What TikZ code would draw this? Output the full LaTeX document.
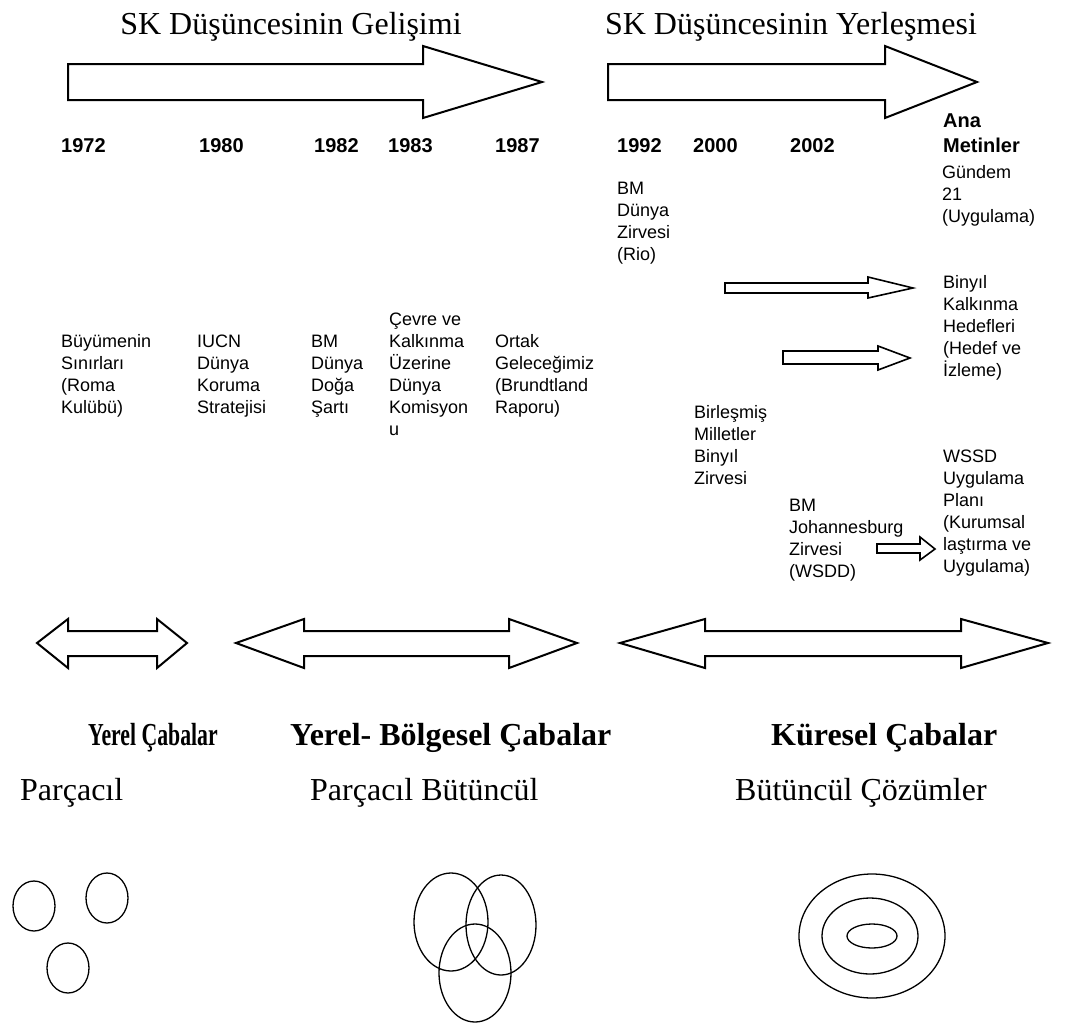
\documentclass[tikz,border=0pt]{standalone}
\usepackage{fontspec}
\setmainfont{Liberation Serif}
\setsansfont{Liberation Sans}
\newcommand\stk[1]{\vtop{\baselineskip=22pt\lineskiplimit=-20pt\halign{##\hfil\cr#1\crcr}}}
\begin{document}
\begin{tikzpicture}[x=1pt,y=-1pt,
  bigarrow/.style={draw=black,line width=2pt,fill=white,line join=miter},
  smallarrow/.style={draw=black,line width=1.6pt,fill=white,line join=miter},
  ring/.style={draw=black,line width=1.3pt},
  title/.style={anchor=base,inner sep=0pt,font=\fontsize{32}{36}\selectfont},
  heading/.style={anchor=base west,inner sep=0pt,font=\bfseries\fontsize{32}{36}\selectfont},
  sub/.style={anchor=base west,inner sep=0pt,font=\fontsize{32}{36}\selectfont},
  year/.style={anchor=base west,inner sep=0pt,font=\sffamily\bfseries\fontsize{20}{25}\selectfont},
  txt/.style={anchor=base west,inner sep=0pt,font=\sffamily\fontsize{18}{22}\selectfont}]
\useasboundingbox (0,0) rectangle (1066,1026);

% titles
\node[title] (t1) at (291,34) {SK Düşüncesinin Gelişimi};
\node[title] (t2) at (791,34) {SK Düşüncesinin Yerleşmesi};

% big timeline arrows
\draw[bigarrow] (68,64) -- (423,64) -- (423,46) -- (542,82) -- (423,118) -- (423,100) -- (68,100) -- cycle;
\draw[bigarrow] (608,64) -- (885,64) -- (885,46) -- (977,82) -- (885,118) -- (885,100) -- (608,100) -- cycle;

% years
\node[year] (y1972) at (61,152) {1972};
\node[year] (y1980) at (199,152) {1980};
\node[year] (y1982) at (314,152) {1982};
\node[year] (y1983) at (388,152) {1983};
\node[year] (y1987) at (495,152) {1987};
\node[year] (y1992) at (617,152) {1992};
\node[year] (y2000) at (693,152) {2000};
\node[year] (y2002) at (790,152) {2002};
\node[year] (ana) at (943,127) {\vtop{\baselineskip=25pt\halign{#\hfil\cr Ana\cr Metinler\crcr}}};

% events left
\node[txt] (e1972) at (61,347) {\stk{Büyümenin\cr Sınırları\cr (Roma\cr Kulübü)}};
\node[txt] (e1980) at (197,347) {\stk{IUCN\cr Dünya\cr Koruma\cr Stratejisi}};
\node[txt] (e1982) at (311,347) {\stk{BM\cr Dünya\cr Doğa\cr Şartı}};
\node[txt] (e1983) at (389,325) {\stk{Çevre ve\cr Kalkınma\cr Üzerine\cr Dünya\cr Komisyon\cr u}};
\node[txt] (e1987) at (495,347) {\stk{Ortak\cr Geleceğimiz\cr (Brundtland\cr Raporu)}};

% events right
\node[txt] (e1992) at (617,194) {\stk{BM\cr Dünya\cr Zirvesi\cr (Rio)}};
\node[txt] (e2000) at (694,418) {\stk{Birleşmiş\cr Milletler\cr Binyıl\cr Zirvesi}};
\node[txt] (e2002) at (789,511) {\stk{BM\cr Johannesburg\cr Zirvesi\cr (WSDD)}};
\node[txt] (m1) at (942,178) {\stk{Gündem\cr 21\cr (Uygulama)}};
\node[txt] (m2) at (943,288) {\stk{Binyıl\cr Kalkınma\cr Hedefleri\cr (Hedef ve\cr İzleme)}};
\node[txt] (m3) at (943,462) {\stk{WSSD\cr Uygulama\cr Planı\cr (Kurumsal\cr laştırma ve\cr Uygulama)}};

% small arrows
\draw[smallarrow] (725,283) -- (868,283) -- (868,277) -- (913,288) -- (868,298) -- (868,293) -- (725,293) -- cycle;
\draw[smallarrow] (783,351) -- (878,351) -- (878,346) -- (910,358) -- (878,370) -- (878,364) -- (783,364) -- cycle;
\draw[smallarrow] (877,544) -- (920,544) -- (920,537) -- (935,549) -- (920,560) -- (920,553) -- (877,553) -- cycle;

% double arrows
\draw[bigarrow] (37,643) -- (68,619) -- (68,631) -- (157,631) -- (157,619) -- (187,643) -- (157,668) -- (157,656) -- (68,656) -- (68,668) -- cycle;
\draw[bigarrow] (236,643) -- (304,619) -- (304,631) -- (509,631) -- (509,619) -- (577,643) -- (509,668) -- (509,656) -- (304,656) -- (304,668) -- cycle;
\draw[bigarrow] (620,643) -- (705,619) -- (705,631) -- (961,631) -- (961,619) -- (1048,643) -- (961,668) -- (961,656) -- (705,656) -- (705,668) -- cycle;

% headings
\node[heading] (h1) at (88,745) {\scalebox{0.68}[1]{Yerel Çabalar}};
\node[heading] (h2) at (290,745) {Yerel- Bölgesel Çabalar};
\node[heading] (h3) at (771,745) {Küresel Çabalar};

\node[sub] (s1) at (20,800) {Parçacıl};
\node[sub] (s2) at (310,800) {Parçacıl Bütüncül};
\node[sub] (s3) at (735,800) {Bütüncül Çözümler};

% circles
\draw[ring] (34,906) ellipse [x radius=21,y radius=25];
\draw[ring] (107,898) ellipse [x radius=21,y radius=25];
\draw[ring] (68,968) ellipse [x radius=21,y radius=25];

\draw[ring] (451,922) ellipse [x radius=37,y radius=49];
\draw[ring] (501,925) ellipse [x radius=35,y radius=50];
\draw[ring] (475,973) ellipse [x radius=36,y radius=49];

\draw[ring] (872,936) ellipse [x radius=73,y radius=62];
\draw[ring] (870,936) ellipse [x radius=48,y radius=38];
\draw[ring] (872,936) ellipse [x radius=25,y radius=12];
\end{tikzpicture}
\end{document}
